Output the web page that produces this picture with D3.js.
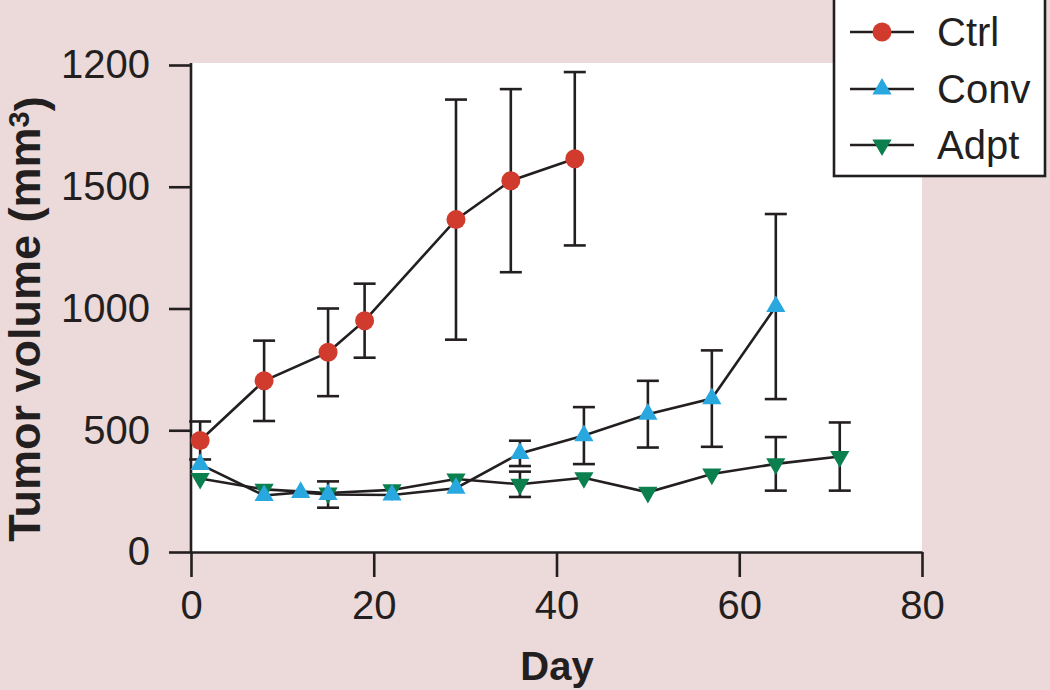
<!DOCTYPE html>
<html>
<head>
<meta charset="utf-8">
<script src="https://cdn.jsdelivr.net/npm/d3@7"></script>
<style>
  html, body { margin: 0; padding: 0; background: #ecd9d9; }
  svg { display: block; font-family: "Liberation Sans", Arial, Helvetica, sans-serif; }
</style>
</head>
<body>
<svg id="chart" width="1050" height="690"></svg>
<script>
// ---- data ----
const seriesNames = ["Ctrl", "Conv", "Adpt"];
const seriesColors = ["#d13b2e", "#29a8e0", "#0b7f4e"];

const ctrlDays = [1, 8, 15, 19, 29, 35, 42];
const ctrlMean = [458, 703, 820, 950, 1365, 1525, 1615];
const ctrlErr  = [78, 165, 180, 152, 493, 376, 356];

const convDays = [1, 8, 12, 15, 22, 29, 36, 43, 50, 57, 64];
const convMean = [360, 232, 245, 236, 234, 262, 405, 478, 566, 630, 1008];
const convErr  = [0, 0, 0, 54, 0, 0, 52, 117, 137, 198, 380];

const adptDays = [1, 8, 15, 22, 29, 36, 43, 50, 57, 64, 71];
const adptMean = [302, 257, 242, 255, 300, 278, 305, 245, 320, 362, 392];
const adptErr  = [0, 0, 0, 0, 0, 52, 0, 0, 0, 110, 140];

const xTicks = [0, 20, 40, 60, 80];
const yTicks = [0, 500, 1000, 1500, 2000];
const yTickLabels = ["0", "500", "1000", "1500", "1200"];

const xTitle = "Day";

// ---- layout ----
const svg = d3.select("#chart");
const ink = "#231f20";
const x = d3.scaleLinear().domain([0, 80]).range([191, 922]);
const y = d3.scaleLinear().domain([0, 2000]).range([552, 65]);

// plot area background
svg.append("rect")
  .attr("x", x(0) + 1).attr("y", 63)
  .attr("width", x(80) - x(0) - 1).attr("height", y(0) - 63)
  .attr("fill", "#ffffff");

// axes
const xAxis = svg.append("g")
  .attr("transform", `translate(0,${y(0)})`)
  .call(d3.axisBottom(x).tickValues(xTicks).tickSize(25).tickSizeOuter(0).tickPadding(14));
const yAxis = svg.append("g")
  .attr("transform", `translate(${x(0)},0)`)
  .call(d3.axisLeft(y).tickValues(yTicks).tickFormat((d, i) => yTickLabels[i])
        .tickSize(22).tickSizeOuter(0).tickPadding(19));
[xAxis, yAxis].forEach(g => {
  g.selectAll("path.domain").attr("stroke", ink).attr("stroke-width", 2.6);
  g.selectAll(".tick line").attr("stroke", ink).attr("stroke-width", 2.6);
  g.selectAll(".tick text").attr("fill", ink).style("font-size", "40px")
    .style("font-family", "'Liberation Sans', Arial, sans-serif");
});
yAxis.select("path.domain").attr("d", `M0,${y(0)}V63`);

// axis titles
svg.append("text")
  .attr("x", 557).attr("y", 680)
  .attr("text-anchor", "middle")
  .attr("fill", ink)
  .style("font-size", "40px").style("font-weight", "bold")
  .text(xTitle);

const yTitle = svg.append("text")
  .attr("transform", "translate(40,319) rotate(-90)")
  .attr("text-anchor", "middle")
  .attr("fill", ink)
  .style("font-size", "45px").style("font-weight", "bold");
yTitle.append("tspan").text("Tumor volume (mm");
yTitle.append("tspan").attr("dy", "-0.38em").style("font-size", "29px").text("3");
yTitle.append("tspan").attr("dy", "0.38em").text(")");

// series
const series = [
  { name: seriesNames[0], color: seriesColors[0], days: ctrlDays, mean: ctrlMean, err: ctrlErr, shape: "circle" },
  { name: seriesNames[1], color: seriesColors[1], days: convDays, mean: convMean, err: convErr, shape: "up" },
  { name: seriesNames[2], color: seriesColors[2], days: adptDays, mean: adptMean, err: adptErr, shape: "down" }
];
series.forEach(s => { s.pts = s.days.map((d, i) => ({ d, m: s.mean[i], e: s.err[i] })); });

const triSize = 160;
function marker(sel, s) {
  if (s.shape === "circle") {
    sel.append("circle").attr("r", 9.5).attr("fill", s.color);
  } else {
    sel.append("path")
      .attr("d", d3.symbol().type(d3.symbolTriangle).size(triSize)())
      .attr("transform", s.shape === "down" ? "rotate(180)" : null)
      .attr("fill", s.color);
  }
}

const drawOrder = [2, 1, 0];
// error bars
drawOrder.forEach(k => {
  const s = series[k];
  const g = svg.append("g").attr("stroke", ink).attr("stroke-width", 2.6);
  s.pts.filter(p => p.e > 0).forEach(p => {
    const cx = x(p.d), y1 = y(p.m + p.e), y2 = y(p.m - p.e);
    g.append("line").attr("x1", cx).attr("x2", cx).attr("y1", y1).attr("y2", y2);
    g.append("line").attr("x1", cx - 11).attr("x2", cx + 11).attr("y1", y1).attr("y2", y1);
    g.append("line").attr("x1", cx - 11).attr("x2", cx + 11).attr("y1", y2).attr("y2", y2);
  });
});
// lines
const line = d3.line().x(p => x(p.d)).y(p => y(p.m));
drawOrder.forEach(k => {
  svg.append("path").datum(series[k].pts)
    .attr("d", line).attr("fill", "none")
    .attr("stroke", ink).attr("stroke-width", 2.6);
});
// markers
drawOrder.forEach(k => {
  const s = series[k];
  s.pts.forEach(p => {
    const g = svg.append("g").attr("transform", `translate(${x(p.d)},${y(p.m)})`);
    marker(g, s);
  });
});

// legend
const lg = svg.append("g");
lg.append("rect").attr("x", 834).attr("y", -5).attr("width", 211).attr("height", 181)
  .attr("fill", "#ffffff").attr("stroke", ink).attr("stroke-width", 2.6);
const legY = [32, 89, 145];
series.forEach((s, i) => {
  lg.append("line").attr("x1", 850).attr("x2", 914).attr("y1", legY[i]).attr("y2", legY[i])
    .attr("stroke", ink).attr("stroke-width", 2.6);
  const g = lg.append("g").attr("transform", `translate(882,${legY[i]})`);
  marker(g, s);
  lg.append("text").attr("x", 937).attr("y", legY[i] + 14)
    .attr("fill", ink).style("font-size", "40px").text(s.name);
});
</script>
</body>
</html>
